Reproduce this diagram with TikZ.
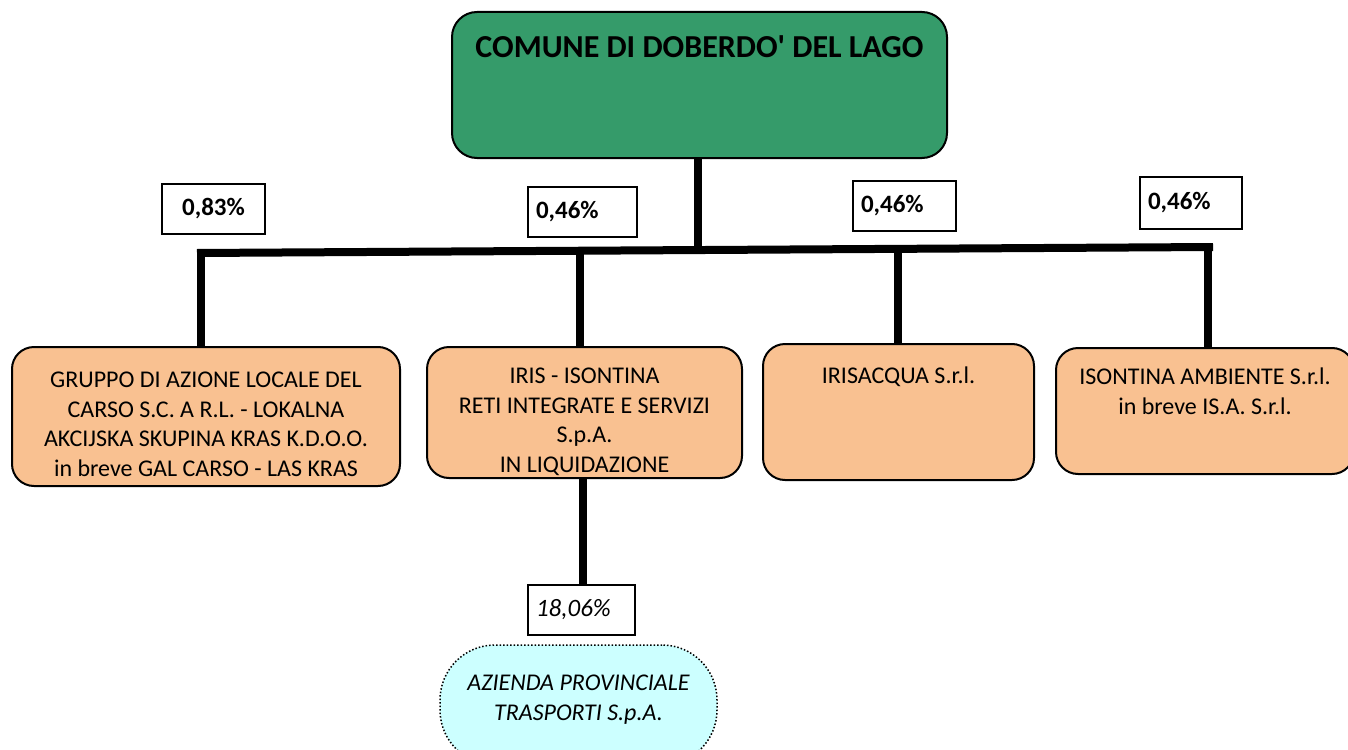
\documentclass[tikz,border=0pt]{standalone}
\usepackage{fontspec}
\setmainfont{Carlito}
\usetikzlibrary{positioning}

\definecolor{comuneGreen}{RGB}{53,155,106}
\definecolor{partOrange}{RGB}{249,193,145}
\definecolor{indCyan}{RGB}{204,255,255}

\tikzset{
  orgbox/.style={draw, line width=2pt, rounded corners=22pt, fill=partOrange, inner sep=0pt},
  orgtext/.style={align=center, font=\fontsize{24}{29.5}\selectfont, inner sep=0pt},
  pctbox/.style={draw, line width=1.5pt, minimum height=50pt, inner sep=0pt,
    font=\fontsize{25}{30}\selectfont\bfseries},
  link/.style={line width=8pt},
}

\begin{document}
\begin{tikzpicture}[x=1pt,y=-1pt]
\useasboundingbox (0,0) rectangle (1348,749);

% ente
\node[draw, line width=2pt, rounded corners=25pt, fill=comuneGreen,
  minimum width=495pt, minimum height=146pt] (comune) at (699.5,85) {};
\node[inner sep=0pt, font=\fontsize{32}{36}\selectfont\bfseries, below=24pt of comune.north] (comuneT) {COMUNE DI DOBERDO\textquotesingle{} DEL LAGO};

% quote
\node[pctbox, minimum width=103pt] (pctGal) at (213.5,209) {0,83\%};
\node[pctbox, text width=93pt, inner xsep=8pt, align=left] (pctIris) at (582.5,212) {0,46\%};
\node[pctbox, text width=87pt, inner xsep=8pt, align=left] (pctAcqua) at (904.5,206) {0,46\%};
\node[pctbox, text width=86pt, inner xsep=8pt, align=left, minimum height=52pt] (pctIsa) at (1191,203) {0,46\%};

% partecipate
\node[orgbox, minimum width=388pt, minimum height=139pt] (gal) at (206,416.5) {};
\node[orgtext, below=26pt of gal.north] (galT) {GRUPPO DI AZIONE LOCALE DEL\\CARSO S.C. A R.L. - LOKALNA\\AKCIJSKA SKUPINA KRAS K.D.O.O.\\in breve GAL CARSO - LAS KRAS};

\node[orgbox, minimum width=315pt, minimum height=131pt] (iris) at (584.5,412.5) {};
\node[orgtext, below=22pt of iris.north] (irisT) {IRIS - ISONTINA\\RETI INTEGRATE E SERVIZI\\S.p.A.\\IN LIQUIDAZIONE};

\node[orgbox, minimum width=271pt, minimum height=136pt] (acqua) at (898.5,412) {};
\node[orgtext, below=24pt of acqua.north] (acquaT) {IRISACQUA S.r.l.};

\node[orgbox, minimum width=298pt, minimum height=126pt] (isa) at (1205,411) {};
\node[orgtext, below=21pt of isa.north] (isaT) {ISONTINA AMBIENTE S.r.l.\\in breve IS.A. S.r.l.};

% indiretta
\node[pctbox, text width=91pt, inner xsep=8pt, align=left, font=\fontsize{25}{30}\selectfont\itshape] (pctApt) at (581.5,610) {18,06\%};
\node[draw, dotted, line width=1.5pt, rounded corners=55pt, fill=indCyan,
  minimum width=277pt, minimum height=120pt] (apt) at (578.5,705) {};
\node[orgtext, font=\fontsize{24}{30}\selectfont\itshape, below=30pt of apt.north] (aptT) {AZIENDA PROVINCIALE\\TRASPORTI S.p.A.};

% collegamenti
\coordinate (barL) at (197,253);
\coordinate (barR) at (1213,247);
\coordinate (j0) at (698,249);
\coordinate (j1) at (201,253);
\coordinate (j2) at (580,252);
\coordinate (j3) at (898,250);
\coordinate (j4) at (1208,247);
\draw[link] (barL) -- (barR);
\draw[link] (comune.south -| j0) -- (j0);
\draw[link] (j1) -- (j1 |- gal.north);
\draw[link] (j2) -- (j2 |- iris.north);
\draw[link] (j3) -- (j3 |- acqua.north);
\draw[link] (j4) -- (j4 |- isa.north);
\draw[link] ([xshift=-2pt]iris.south) -- ([xshift=-2pt]iris.south |- pctApt.north);
\end{tikzpicture}
\end{document}
